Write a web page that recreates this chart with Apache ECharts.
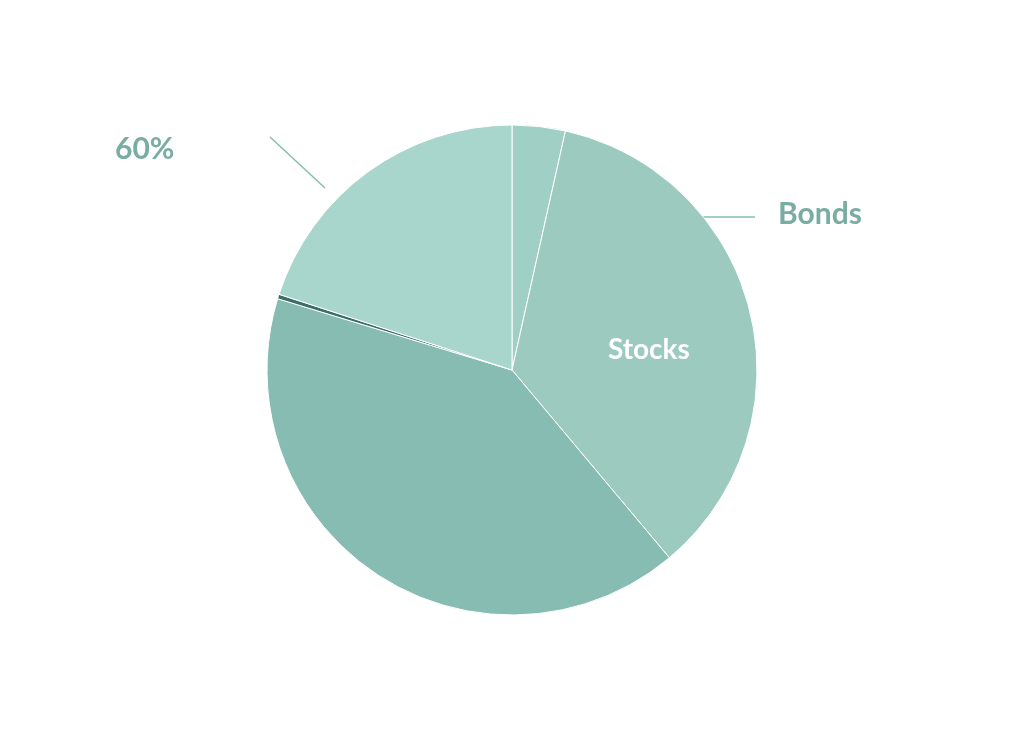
<!DOCTYPE html>
<html><head><meta charset="utf-8">
<script src="https://cdn.jsdelivr.net/npm/echarts@6/dist/echarts.min.js"></script>
<style>html,body{margin:0;background:#fff}#c{width:1024px;height:737px}</style>
</head><body><div id="c"></div>
<script>
const sliceNames = ['A', 'Stocks', 'C', 'D', 'E'];
const sliceValues = [3.5, 35.4, 40.8, 0.3, 20.0];
const sliceColors = ['#a0cfc5', '#9ccabf', '#86bcb1', '#3d6e66', '#a9d6cc'];
const outerLabels = ['60%', 'Bonds'];

const chart = echarts.init(document.getElementById('c'));
chart.setOption({
  animation: false,
  series: [{
    type: 'pie', center: [512, 370], radius: 245, startAngle: 90, clockwise: true,
    itemStyle: { borderColor: '#ffffff', borderWidth: 1 },
    data: sliceNames.map((n, i) => ({
      name: n, value: sliceValues[i], itemStyle: { color: sliceColors[i] },
      label: n === 'Stocks'
        ? { show: true, position: 'inside', formatter: '{b}', color: '#fff', fontFamily: 'Lato', fontWeight: 'bold', fontSize: 28, offset: [15, 10] }
        : { show: false }
    })),
    labelLine: { show: false }
  }],
  graphic: [
    { type: 'line', shape: { x1: 270, y1: 137, x2: 325, y2: 188 }, style: { stroke: '#86bcb1', lineWidth: 1.5 } },
    { type: 'line', shape: { x1: 508, y1: 217, x2: 755, y2: 217 }, style: { stroke: '#86bcb1', lineWidth: 1.5 } },
    { type: 'text', x: 115, y: 134, style: { text: outerLabels[0], fill: '#7aada2', font: 'bold 30px Lato' } },
    { type: 'text', x: 778, y: 199, style: { text: outerLabels[1], fill: '#7aada2', font: 'bold 30px Lato' } }
  ]
});
</script></body></html>
